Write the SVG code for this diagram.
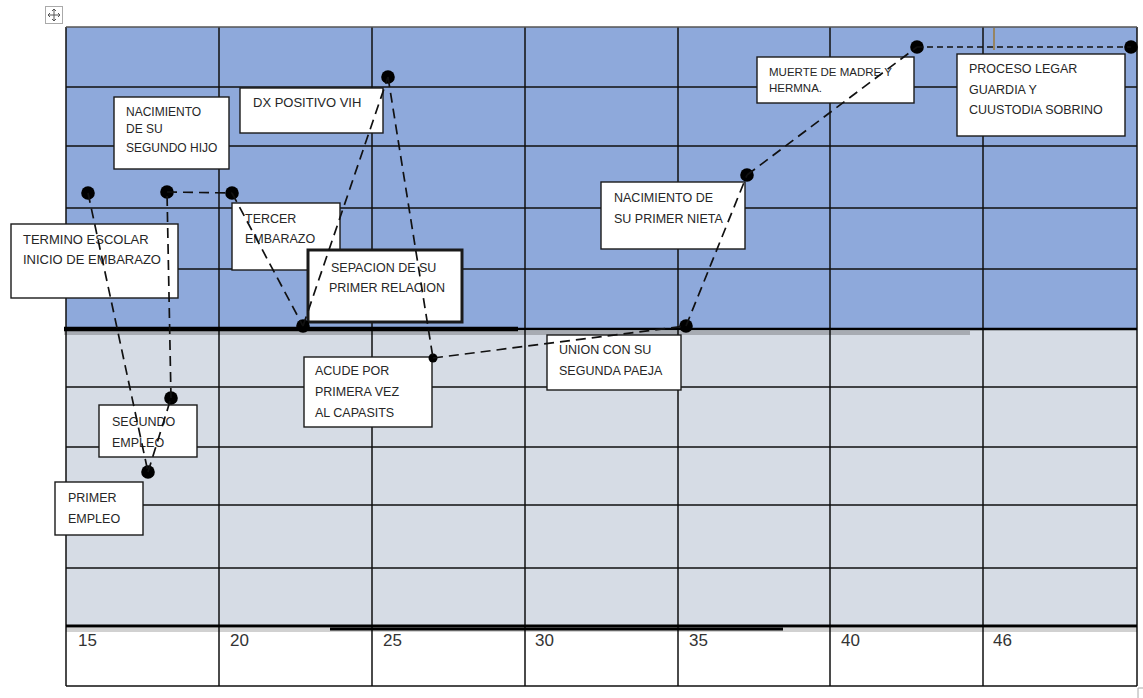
<svg xmlns="http://www.w3.org/2000/svg" width="1143" height="698" viewBox="0 0 1143 698">
<style>
.box{fill:#fff;stroke:#1a1a1a;stroke-width:1.4}
.t{font-family:"Liberation Sans",Arial,sans-serif;font-size:12.5px;fill:#262626}
.ax{font-family:"Liberation Sans",Arial,sans-serif;font-size:17px;fill:#333}
.g{stroke:#111;stroke-width:1.5;fill:none}
.dash{stroke:#111;stroke-width:1.7;stroke-dasharray:10 6;fill:none}
.dot{fill:#000}
</style>
<rect width="1143" height="698" fill="#fff"/>
<g id="grid">
<rect x="66" y="27" width="1071" height="302" fill="#8EA9DB"/>
<rect x="66" y="329" width="1071" height="297" fill="#D6DCE5"/>
<rect x="66" y="626" width="1071" height="60" fill="#fff"/>
<path class="g" d="M66 87H1137M66 146H1137M66 208H1137M66 269H1137M66 387H1137M66 447H1137M66 505H1137M66 568H1137M66 686H1137"/>
<path class="g" d="M66 27V686M219 27V686M372 27V686M525 27V686M678 27V686M830 27V686M983 27V686M1137 27V686"/>
<path d="M66 27H1137" stroke="#555" stroke-width="1.5"/>
<rect x="64" y="331" width="906" height="4" fill="#000" opacity="0.22"/>
<path d="M64 329H1137" stroke="#000" stroke-width="2.6"/>
<path d="M64 329H518" stroke="#000" stroke-width="4.5"/>
<rect x="66" y="628" width="1071" height="4" fill="#000" opacity="0.18"/>
<path d="M66 626H1137" stroke="#000" stroke-width="3"/>
<path d="M330 629H783" stroke="#000" stroke-width="3"/>
<path d="M994 28V50" stroke="#9a7a3a" stroke-width="1.5"/>
<path d="M1138 698V688H1143" stroke="#aaa" stroke-width="1" fill="none"/>
<g id="move-icon" fill="none" stroke="#777" stroke-width="1">
<rect x="45.5" y="6.5" width="17" height="17" stroke="#aaa"/>
<path d="M54 9V21M48 15H60" stroke="#555"/>
<path d="M52 11L54 9L56 11M52 19L54 21L56 19M50 13L48 15L50 17M58 13L60 15L58 17" stroke="#555"/>
</g>
<text class="ax" x="78" y="646">15</text>
<text class="ax" x="230" y="646">20</text>
<text class="ax" x="383" y="646">25</text>
<text class="ax" x="535" y="646">30</text>
<text class="ax" x="689" y="646">35</text>
<text class="ax" x="841" y="646">40</text>
<text class="ax" x="993" y="646">46</text>
</g>
<g id="n-segundo-hijo">
<rect class="box" x="114" y="97" width="115" height="72"/>
<text class="t" style="font-size:12px" x="126" y="116">NACIMIENTO</text>
<text class="t" style="font-size:12px" x="126" y="133">DE SU</text>
<text class="t" style="font-size:12px" x="126" y="152">SEGUNDO HIJO</text>
<circle class="dot" cx="167" cy="192" r="6.8"/>
</g>
<g id="n-dx-vih">
<rect class="box" x="240" y="88" width="143" height="45"/>
<text class="t" style="font-size:13px" x="253" y="107">DX POSITIVO VIH</text>
<circle class="dot" cx="388" cy="77" r="6.8"/>
</g>
<g id="n-termino-escolar">
<rect class="box" x="11" y="224" width="167" height="74"/>
<text class="t" style="font-size:13px" x="23" y="244">TERMINO ESCOLAR</text>
<text class="t" style="font-size:13px" x="23" y="264">INICIO DE EMBARAZO</text>
<circle class="dot" cx="88" cy="193" r="6.8"/>
</g>
<g id="n-tercer-embarazo">
<rect class="box" x="232" y="203" width="108" height="67"/>
<text class="t" x="245" y="223">TERCER</text>
<text class="t" x="245" y="243">EMBARAZO</text>
<circle class="dot" cx="232" cy="193" r="6.8"/>
</g>
<g id="n-separacion">
<rect class="box" x="308" y="250" width="154" height="72" style="stroke-width:3"/>
<text class="t" x="331" y="272">SEPACION DE SU</text>
<text class="t" x="329" y="292">PRIMER RELACION</text>
<circle class="dot" cx="303" cy="326" r="6.8"/>
</g>
<g id="n-primer-nieta">
<rect class="box" x="601" y="182" width="144" height="67"/>
<text class="t" x="614" y="202">NACIMIENTO DE</text>
<text class="t" x="614" y="223">SU PRIMER NIETA</text>
<circle class="dot" cx="747" cy="175" r="6.8"/>
</g>
<g id="n-muerte">
<rect class="box" x="757" y="57" width="157" height="46"/>
<text class="t" style="font-size:11.5px" x="769" y="76">MUERTE DE MADRE Y</text>
<text class="t" style="font-size:11.5px" x="769" y="92">HERMNA.</text>
<circle class="dot" cx="917" cy="47" r="6.8"/>
</g>
<g id="n-proceso-legar">
<rect class="box" x="957" y="54" width="168" height="82"/>
<text class="t" x="969" y="73">PROCESO LEGAR</text>
<text class="t" x="969" y="94">GUARDIA Y</text>
<text class="t" x="969" y="114">CUUSTODIA SOBRINO</text>
<circle class="dot" cx="1131" cy="47" r="6.8"/>
</g>
<g id="n-capasits">
<rect class="box" x="304" y="357" width="128" height="70"/>
<text class="t" x="315" y="375">ACUDE POR</text>
<text class="t" x="315" y="396">PRIMERA VEZ</text>
<text class="t" x="315" y="417">AL CAPASITS</text>
<circle class="dot" cx="433" cy="358" r="4.5"/>
</g>
<g id="n-segunda-pareja">
<rect class="box" x="547" y="335" width="134" height="55"/>
<text class="t" x="559" y="354">UNION CON SU</text>
<text class="t" x="559" y="375">SEGUNDA PAEJA</text>
<circle class="dot" cx="686" cy="326" r="6.8"/>
</g>
<g id="n-segundo-empleo">
<rect class="box" x="99" y="405" width="98" height="52"/>
<text class="t" x="112" y="426">SEGUNDO</text>
<text class="t" x="112" y="447">EMPLEO</text>
<circle class="dot" cx="171" cy="398" r="6.8"/>
</g>
<g id="n-primer-empleo">
<rect class="box" x="55" y="482" width="88" height="53"/>
<text class="t" x="68" y="502">PRIMER</text>
<text class="t" x="68" y="523">EMPLEO</text>
<circle class="dot" cx="148" cy="472" r="6.8"/>
</g>
<g id="connectors">
<path class="dash" d="M88 193L148 472"/>
<path class="dash" d="M148 472L171 398"/>
<path class="dash" d="M171 398L167 192"/>
<path class="dash" d="M167 192L232 193"/>
<path class="dash" d="M232 193L303 326"/>
<path class="dash" d="M303 326L388 77"/>
<path class="dash" d="M388 77L433 358"/>
<path class="dash" d="M433 358L686 326"/>
<path class="dash" d="M686 326L747 175"/>
<path class="dash" d="M747 175L917 47"/>
<path class="dash" style="stroke-width:1.4;stroke-dasharray:6 4" d="M917 47L1131 47"/>
</g>
</svg>
